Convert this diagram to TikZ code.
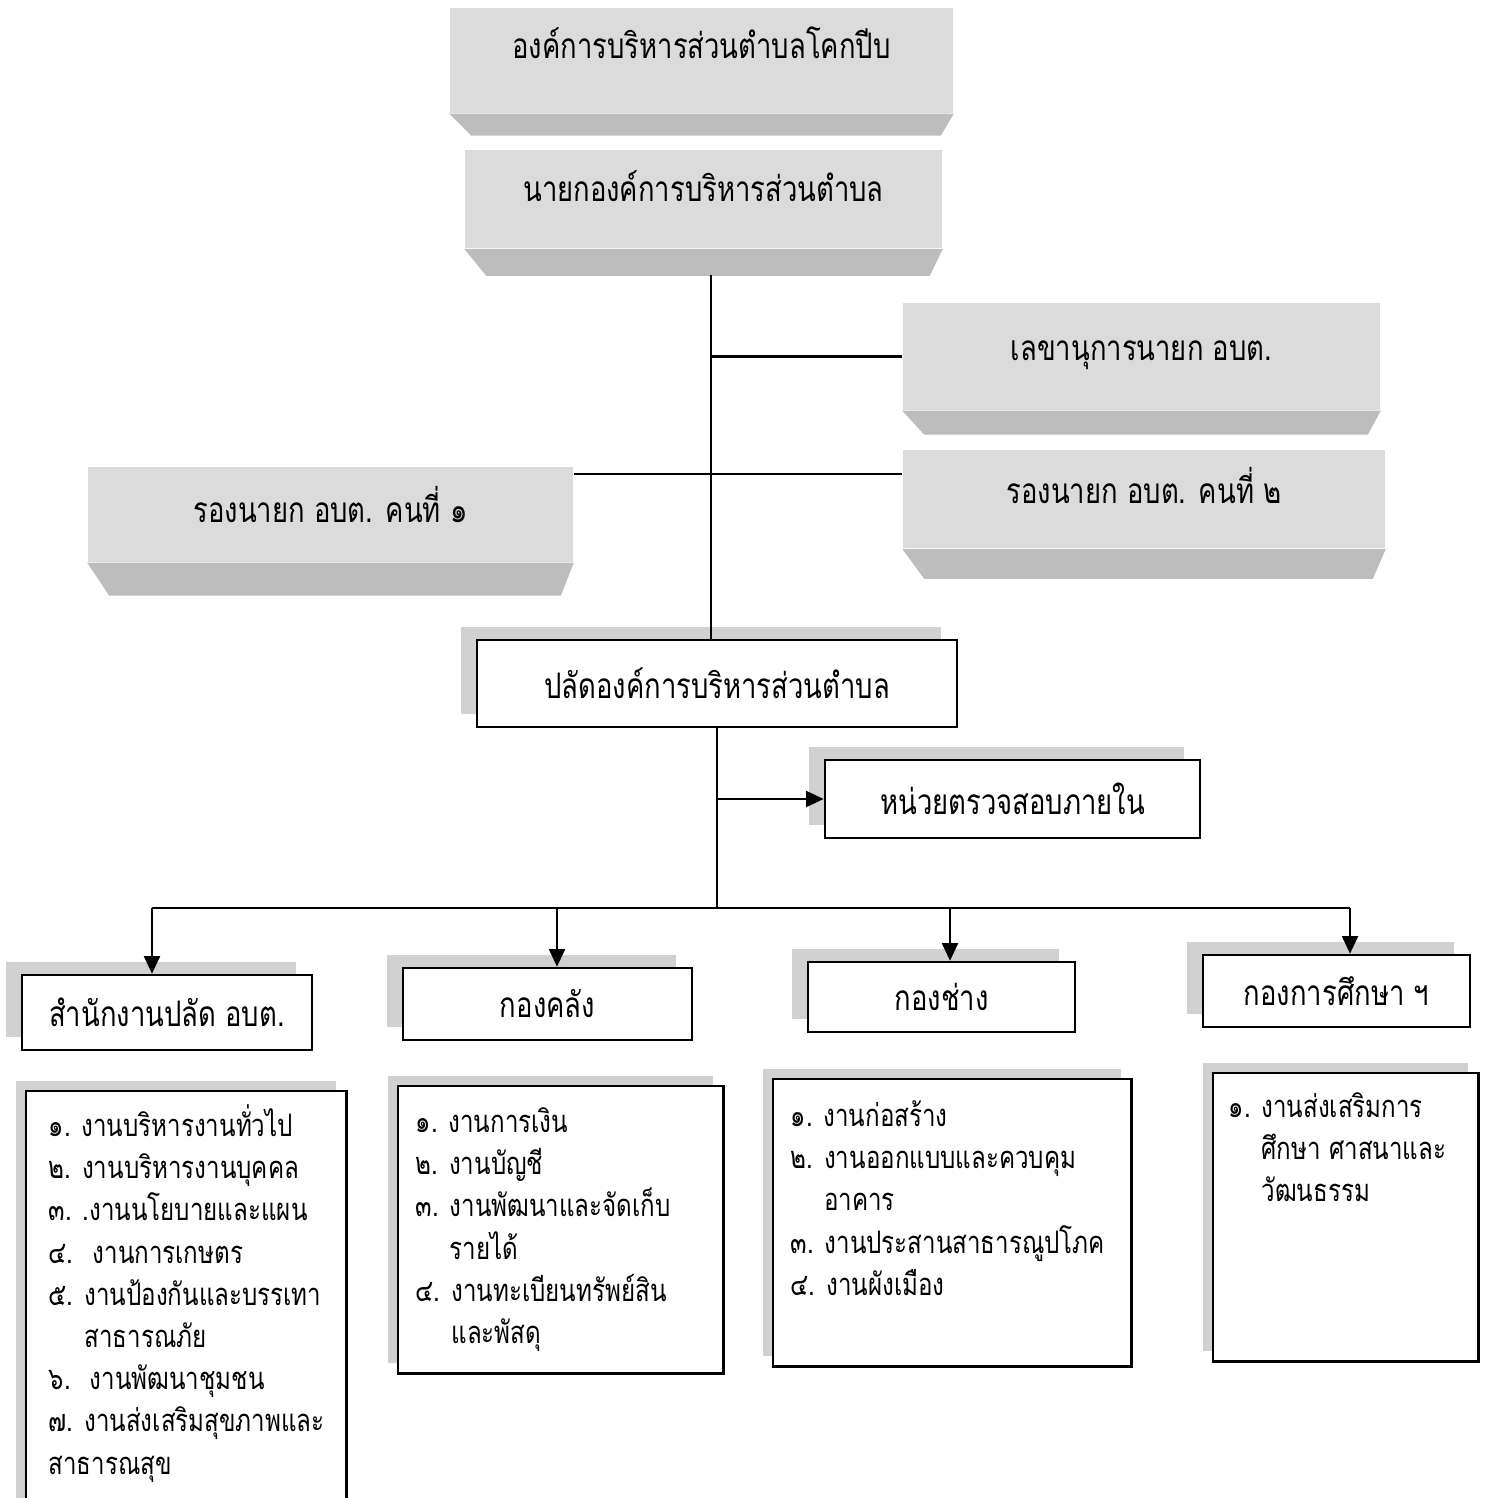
\documentclass[tikz,border=0pt]{standalone}
\usepackage{fontspec}
\newfontfamily\thaifont[Script=Thai, FakeStretch=0.78]{Loma}
\usetikzlibrary{arrows.meta,positioning,calc,shadows}
\definecolor{facegray}{gray}{0.86}
\definecolor{bevelgray}{gray}{0.74}
\definecolor{shadowgray}{gray}{0.82}

\begin{document}
\begin{tikzpicture}[x=0.01cm, y=-0.01cm,
  facebox/.style={rectangle, fill=facegray, inner sep=0pt, font=\thaifont\fontsize{10}{12}\selectfont},
  unitbox/.style={rectangle, draw=black, line width=0.7pt, fill=white, inner sep=0pt, font=\thaifont\fontsize{10}{12}\selectfont, general shadow={fill=shadowgray, shadow xshift=-4.5pt, shadow yshift=3.8pt}},
  listbox/.style={rectangle, draw=black, line width=0.7pt, fill=white, inner sep=0pt, anchor=north west, general shadow={fill=shadowgray, shadow xshift=-3pt, shadow yshift=3pt}},
  listtext/.style={anchor=north west, inner sep=0pt, align=left, font=\thaifont\fontsize{8.8}{12}\selectfont},
  link/.style={line width=0.7pt},
  arrowlink/.style={line width=0.7pt, -{Triangle[length=5pt, width=4.5pt]}}]
  \clip (0,0) rectangle (1489,1498);

  % gray boxes at the top
  \node (org) [facebox, minimum width=5.03cm, text height=14.2pt, text depth=15.6pt] at (701.5,60.5) {องค์การบริหารส่วนตำบลโคกปีบ};
  \node (nayok) [facebox, minimum width=4.77cm, text height=14.8pt, text depth=13.1pt] at (703.5,199) {นายกองค์การบริหารส่วนตำบล};
  \node (lekha) [facebox, minimum width=4.77cm, text height=16.2pt, text depth=14.2pt] at (1141.5,356.5) {เลขานุการนายก อบต.};
  \node (rong2) [facebox, minimum width=4.82cm, text height=15.1pt, text depth=12.8pt] at (1144,499) {รองนายก อบต. คนที่ ๒};
  \node (rong1) [facebox, minimum width=4.85cm, text height=15.9pt, text depth=11.1pt] at (330.5,514.5) {รองนายก อบต. คนที่ ๑};
  \foreach \n/\h in {org/22, nayok/27, lekha/24, rong2/30, rong1/33}
    \fill[bevelgray] (\n.south west) -- (\n.south east) -- ($(\n.south east)+(-13,\h)$) -- ($(\n.south west)+(22,\h)$) -- cycle;

  % white boxes
  \node (palad) [unitbox, minimum width=4.8cm, minimum height=0.87cm] at (717,683.5) {ปลัดองค์การบริหารส่วนตำบล};
  \node (audit) [unitbox, minimum width=3.75cm, minimum height=0.78cm] at (1012.5,799) {หน่วยตรวจสอบภายใน};
  \node (off) [unitbox, minimum width=2.9cm, minimum height=0.75cm] at (167,1012.5) {สำนักงานปลัด อบต.};
  \node (fin) [unitbox, minimum width=2.89cm, minimum height=0.72cm] at (547.5,1004) {กองคลัง};
  \node (eng) [unitbox, minimum width=2.67cm, minimum height=0.7cm] at (941.5,997) {กองช่าง};
  \node (edu) [unitbox, minimum width=2.67cm, minimum height=0.72cm] at (1336.5,991) {กองการศึกษา ฯ};

  % lines
  \coordinate (trunk) at (711,275);
  \coordinate (rongline) at (0,474);
  \coordinate (bus) at (717,908);
  \draw[link] (trunk) -- (trunk |- palad.north);
  \draw[link] (trunk |- lekha.west) -- (lekha.west);
  \draw[link] (rong1.east |- rongline) -- (rong2.west |- rongline);
  \draw[link] (palad.south) -- (palad.south |- bus);
  \draw[arrowlink] (palad.south |- audit.west) -- (audit.west);
  \coordinate (busL) at (152,908);
  \coordinate (busR) at (1350,908);
  \draw[link] (busL) -- (busR);
  \foreach \n/\x in {off/152, fin/557, eng/950, edu/1350} {
    \coordinate (top\n) at (\x,908);
    \draw[arrowlink] (top\n) -- (top\n |- \n.north);
  }

  % task lists
  \node (offlist) [listbox, minimum width=3.2cm, minimum height=4.3cm] at (25,1090) {};
  \node (offitems) [listtext] at ($(offlist.north west)+(23,14)$) {๑. งานบริหารงานทั่วไป\\
    ๒. งานบริหารงานบุคคล\\
    ๓. .งานนโยบายและแผน\\
    ๔. \ งานการเกษตร\\
    ๕. งานป้องกันและบรรเทา\\
    \hphantom{๕. }สาธารณภัย\\
    ๖. \ งานพัฒนาชุมชน\\
    ๗. งานส่งเสริมสุขภาพและ\\
    สาธารณสุข};
  \node (finlist) [listbox, minimum width=3.25cm, minimum height=2.87cm] at (397,1085) {};
  \node (finitems) [listtext] at ($(finlist.north west)+(18,22)$) {๑. งานการเงิน\\
    ๒. งานบัญชี\\
    ๓. งานพัฒนาและจัดเก็บ\\
    \hphantom{๓. }รายได้\\
    ๔. งานทะเบียนทรัพย์สิน\\
    \hphantom{๔. }และพัสดุ};
  \node (englist) [listbox, minimum width=3.58cm, minimum height=2.87cm] at (772,1078) {};
  \node (engitems) [listtext] at ($(englist.north west)+(18,22)$) {๑. งานก่อสร้าง\\
    ๒. งานออกแบบและควบคุม\\
    \hphantom{๒. }อาคาร\\
    ๓. งานประสานสาธารณูปโภค\\
    ๔. งานผังเมือง};
  \node (edulist) [listbox, minimum width=2.65cm, minimum height=2.88cm] at (1212,1072) {};
  \node (eduitems) [listtext] at ($(edulist.north west)+(16,20)$) {๑. งานส่งเสริมการ\\
    \hphantom{๑. }ศึกษา ศาสนาและ\\
    \hphantom{๑. }วัฒนธรรม};
\end{tikzpicture}
\end{document}
